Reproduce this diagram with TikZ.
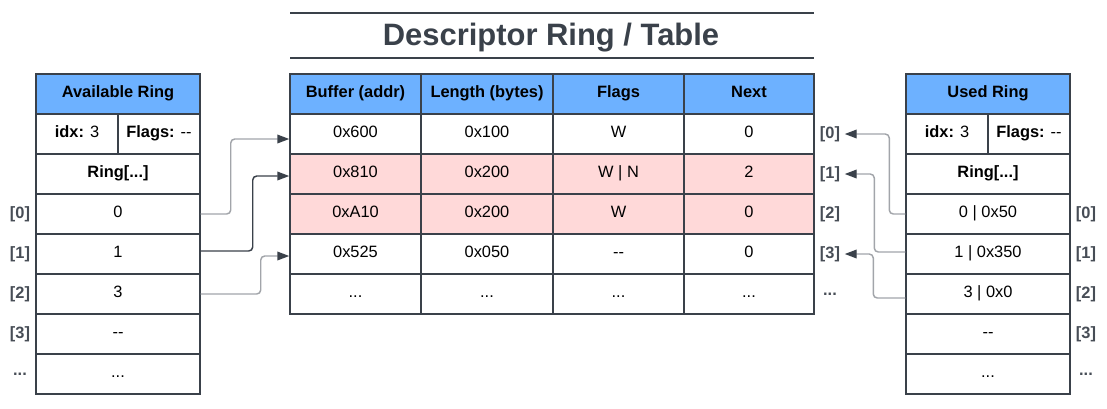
\documentclass[tikz,border=0pt]{standalone}
\usepackage{fontspec}
\setmainfont{Liberation Sans}
\usetikzlibrary{arrows.meta,calc}
\definecolor{linec}{HTML}{3A414A}
\definecolor{headblue}{HTML}{6DB1FF}
\definecolor{usedpink}{HTML}{FFD9D9}
\definecolor{wiregray}{HTML}{A2A5AA}
\definecolor{labelc}{HTML}{474D56}
\begin{document}
\begin{tikzpicture}[x=0.75pt,y=-0.75pt,
  cell/.style={draw=linec,line width=1.1pt,inner sep=0,minimum height=30pt,
    text height=9pt,text depth=4pt,font=\fontsize{12.3}{14}\selectfont},
  head/.style={cell,fill=headblue,font=\fontsize{12.3}{14}\selectfont\bfseries},
  wide/.style={minimum width=123pt},
  half/.style={minimum width=61.5pt},
  idx/.style={text=labelc,font=\fontsize{12.3}{14}\selectfont\bfseries},
  link/.style={draw=wiregray,line width=1.1pt,rounded corners=3pt,
    -{Triangle[length=9pt,width=6.5pt,color=linec]}}]
\useasboundingbox (0,0) rectangle (1107,408);
% title
\draw[linec,line width=1.5pt] (290,13) -- (814,13);
\node[text=linec,font=\fontsize{23.2}{26}\selectfont\bfseries] (title) at (551,38) {Descriptor Ring / Table};
\draw[linec,line width=1.5pt] (290,58) -- (814,58);
% available ring
\node[head,wide] (avh) at (118,94) {Available Ring};
\node[cell,half] (avidx) at (77,134) {\textbf{idx:} 3};
\node[cell,half] (avflg) at (159,134) {\textbf{Flags:} -{}-};
\node[cell,wide] (avr) at (118,174) {\textbf{Ring[...]}};
\node[cell,wide] (a0) at (118,214) {0};
\node[cell,wide] (a1) at (118,254) {1};
\node[cell,wide] (a2) at (118,294) {3};
\node[cell,wide] (a3) at (118,334) {-{}-};
\node[cell,wide] (a4) at (118,374) {...};
\node[idx] (la0) at (20,214) {[0]};
\node[idx] (la1) at (20,254) {[1]};
\node[idx] (la2) at (20,294) {[2]};
\node[idx] (la3) at (20,334) {[3]};
\node[idx] (la4) at (20,374) {...};
% descriptor table
\node[head,minimum width=98.25pt] (hbuf) at (355.5,94) {Buffer (addr)};
\node[head,minimum width=99pt] (hlen) at (487,94) {Length (bytes)};
\node[head,minimum width=98.25pt] (hflg) at (618.5,94) {Flags};
\node[head,minimum width=97.5pt] (hnxt) at (749,94) {Next};
\node[cell,minimum width=98.25pt] (d0) at (355.5,134) {0x600};
\node[cell,minimum width=99pt] (l0) at (487,134) {0x100};
\node[cell,minimum width=98.25pt] (f0) at (618.5,134) {W};
\node[cell,minimum width=97.5pt] (n0) at (749,134) {0};
\node[cell,fill=usedpink,minimum width=98.25pt] (d1) at (355.5,174) {0x810};
\node[cell,fill=usedpink,minimum width=99pt] (l1) at (487,174) {0x200};
\node[cell,fill=usedpink,minimum width=98.25pt] (f1) at (618.5,174) {W | N};
\node[cell,fill=usedpink,minimum width=97.5pt] (n1) at (749,174) {2};
\node[cell,fill=usedpink,minimum width=98.25pt] (d2) at (355.5,214) {0xA10};
\node[cell,fill=usedpink,minimum width=99pt] (l2) at (487,214) {0x200};
\node[cell,fill=usedpink,minimum width=98.25pt] (f2) at (618.5,214) {W};
\node[cell,fill=usedpink,minimum width=97.5pt] (n2) at (749,214) {0};
\node[cell,minimum width=98.25pt] (d3) at (355.5,254) {0x525};
\node[cell,minimum width=99pt] (l3) at (487,254) {0x050};
\node[cell,minimum width=98.25pt] (f3) at (618.5,254) {-{}-};
\node[cell,minimum width=97.5pt] (n3) at (749,254) {0};
\node[cell,minimum width=98.25pt] (d4) at (355.5,294) {...};
\node[cell,minimum width=99pt] (l4) at (487,294) {...};
\node[cell,minimum width=98.25pt] (f4) at (618.5,294) {...};
\node[cell,minimum width=97.5pt] (n4) at (749,294) {...};
\node[idx] (m0) at (830,134) {[0]};
\node[idx] (m1) at (830,174) {[1]};
\node[idx] (m2) at (830,214) {[2]};
\node[idx] (m3) at (830,254) {[3]};
\node[idx] (m4) at (830,294) {...};
% used ring
\node[head,wide] (ush) at (988,94) {Used Ring};
\node[cell,half] (usidx) at (947,134) {\textbf{idx:} 3};
\node[cell,half] (usflg) at (1029,134) {\textbf{Flags:} -{}-};
\node[cell,wide] (usr) at (988,174) {\textbf{Ring[...]}};
\node[cell,wide] (u0) at (988,214) {0 | 0x50};
\node[cell,wide] (u1) at (988,254) {1 | 0x350};
\node[cell,wide] (u2) at (988,294) {3 | 0x0};
\node[cell,wide] (u3) at (988,334) {-{}-};
\node[cell,wide] (u4) at (988,374) {...};
\node[idx] (lu0) at (1086,214) {[0]};
\node[idx] (lu1) at (1086,254) {[1]};
\node[idx] (lu2) at (1086,294) {[2]};
\node[idx] (lu3) at (1086,334) {[3]};
\node[idx] (lu4) at (1086,374) {...};
% ring entries -> descriptors
\draw[link] (a0.east) -- ++(30,0) |- ($(d0.west)+(0,5)$);
\draw[link,draw=linec] ($(a1.east)+(0,-3)$) -- ++(52,0) |- ($(d1.west)+(0,2)$);
\draw[link] (a2.east) -- ++(60,0) |- ($(d3.west)+(0,2)$);
\draw[link] (u0.west) -- ++(-16,0) |- (m0.east);
\draw[link] ($(u1.west)+(0,-2)$) -- ++(-31,0) |- (m1.east);
\draw[link] ($(u2.west)+(0,4)$) -- ++(-32,0) |- (m3.east);
\end{tikzpicture}
\end{document}
